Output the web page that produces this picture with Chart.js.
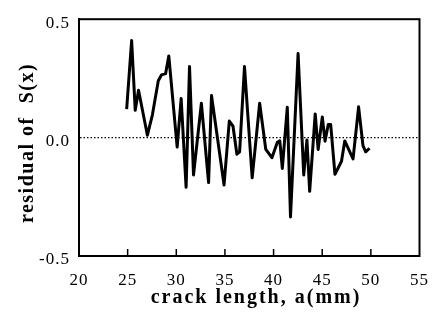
<!DOCTYPE html>
<html>
<head>
<meta charset="utf-8">
<script src="https://cdn.jsdelivr.net/npm/chart.js@4/dist/chart.umd.min.js"></script>
<style>
  html, body { margin: 0; padding: 0; background: #ffffff; }
  #wrap { width: 442px; height: 320px; }
</style>
</head>
<body>
<div id="wrap"><canvas id="c" width="442" height="320"></canvas></div>
<script>
// ---- data ----
const crackLength = [24.9, 25.41, 25.78, 26.12, 27.03, 27.54, 28.15, 28.49, 28.9, 29.23,
  30.09, 30.5, 31.01, 31.36, 31.77, 32.58, 33.32, 33.62, 34.91, 35.45,
  35.83, 36.23, 36.51, 37.01, 37.8, 38.57, 39.2, 39.83, 40.39, 40.64,
  40.9, 41.41, 41.74, 42.52, 43.1, 43.43, 43.71, 44.28, 44.58, 45.01,
  45.29, 45.62, 45.87, 46.31, 46.98, 47.32, 48.17, 48.74, 49.19, 49.47, 49.86];
const residual = [0.12, 0.41, 0.115, 0.2, 0.01, 0.095, 0.24, 0.265, 0.27, 0.345,
  -0.04, 0.165, -0.21, 0.3, -0.158, 0.145, -0.19, 0.178, -0.2, 0.07,
  0.048, -0.07, -0.06, 0.3, -0.17, 0.145, -0.05, -0.085, -0.02, -0.014,
  -0.13, 0.128, -0.335, 0.355, -0.158, -0.01, -0.227, 0.1, -0.05, 0.087,
  -0.015, 0.055, 0.055, -0.155, -0.1, -0.014, -0.09, 0.13, -0.034, -0.06, -0.045];
const xTickValues = [20, 25, 30, 35, 40, 45, 50, 55];
const yTickValues = [-0.5, 0.0, 0.5];
const xTitle = 'crack length, a(mm)';
const yTitle = 'residual of  S(x)';

const points = crackLength.map((x, i) => ({ x: x, y: residual[i] }));
const serif = '"Liberation Serif", "Times New Roman", serif';

const framePlugin = {
  id: 'frameAndTitles',
  beforeDraw(chart) {
    // slightly wider letter spacing, like the typeset original
    chart.ctx.letterSpacing = '1px';
  },
  afterDraw(chart) {
    const { ctx, chartArea: a, scales } = chart;
    ctx.save();
    // frame box
    ctx.strokeStyle = '#000';
    ctx.lineWidth = 2;
    ctx.strokeRect(a.left, a.top, a.right - a.left, a.bottom - a.top);
    // inward tick marks on the bottom axis
    ctx.lineWidth = 1.5;
    const xs = scales.x;
    xs.ticks.forEach((t, i) => {
      const px = xs.getPixelForTick(i);
      if (px <= a.left + 1 || px >= a.right - 1) return;
      ctx.beginPath();
      ctx.moveTo(px, a.bottom);
      ctx.lineTo(px, a.bottom - 7);
      ctx.stroke();
    });
    // axis titles
    ctx.fillStyle = '#000';
    ctx.font = 'bold 20px ' + serif;
    ctx.textAlign = 'center';
    ctx.textBaseline = 'middle';
    ctx.letterSpacing = '2px';
    ctx.fillText(xTitle, 256, 298);
    ctx.translate(28, 143);
    ctx.rotate(-Math.PI / 2);
    ctx.letterSpacing = '1.5px';
    ctx.fillText(yTitle, 0, 0);
    ctx.restore();
  }
};

new Chart(document.getElementById('c'), {
  type: 'line',
  data: {
    datasets: [{
      data: points,
      borderColor: '#000',
      borderWidth: 3,
      borderJoinStyle: 'round',
      pointRadius: 0,
      tension: 0,
      fill: false
    }]
  },
  options: {
    responsive: false,
    animation: false,
    layout: { padding: { left: 0, top: 14, right: 18, bottom: 0 } },
    plugins: { legend: { display: false }, tooltip: { enabled: false } },
    scales: {
      x: {
        type: 'linear',
        min: 20, max: 55,
        afterBuildTicks: s => { s.ticks = xTickValues.map(v => ({ value: v })); },
        afterFit: s => { s.height = 64; },
        grid: { display: true, drawOnChartArea: false, drawTicks: false, color: 'rgba(0,0,0,0)' },
        border: { display: true, color: '#000', width: 2 },
        ticks: {
          color: '#000',
          font: { family: serif, size: 17 },
          padding: 14,
          maxRotation: 0,
          callback: v => String(v)
        }
      },
      y: {
        type: 'linear',
        min: -0.5, max: 0.5,
        afterBuildTicks: s => { s.ticks = yTickValues.map(v => ({ value: v })); },
        afterFit: s => { s.width = 79; },
        grid: {
          drawTicks: false,
          lineWidth: 1.2,
          color: c => (c.tick && c.tick.value === 0 ? '#000' : 'rgba(0,0,0,0)')
        },
        border: { display: true, color: '#000', width: 2, dash: [1.5, 2] },
        ticks: {
          color: '#000',
          font: { family: serif, size: 17 },
          padding: 9,
          labelOffset: 4,
          callback: v => Number(v).toFixed(1)
        }
      }
    }
  },
  plugins: [framePlugin]
});
</script>
</body>
</html>
